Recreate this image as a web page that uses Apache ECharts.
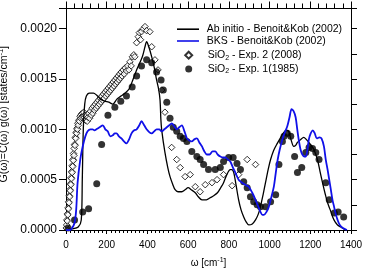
<!DOCTYPE html>
<html><head><meta charset="utf-8">
<script src="https://cdn.jsdelivr.net/npm/echarts@6/dist/echarts.min.js"></script>
<style>html,body{margin:0;padding:0;background:#fff}#c{width:365px;height:270px}</style>
</head><body><div id="c"></div>
<script>
const xTicks = [0, 200, 400, 600, 800, 1000, 1200, 1400];
const yTicks = ['0.0000', '0.0005', '0.0010', '0.0015', '0.0020'];
const seriesNames = ['Ab initio - Benoit&Kob (2002)', 'BKS - Benoit&Kob (2002)', 'SiO2 - Exp. 2 (2008)', 'SiO2 - Exp. 1(1985)'];

const abW = [0,30,60,75,80,85,92,100,115,135,150,170,190,210,230,250,270,290,310,330,345,360,375,388,396,405,421,435,445,455,462,466,470,486,500,511,525,536,550,569,585,600,615,635,650,668,690,708,725,744,760,774,790,807,815,824,835,848,860,873,885,898,915,931,945,955,968,980,993,1005,1020,1038,1055,1070,1082,1094,1105,1119,1128,1137,1153,1168,1180,1193,1205,1218,1235,1248,1260,1273,1285,1298,1310,1322,1334,1350,1365,1380];
const abG = [0,0.00001,0.00003,0.0001,0.0005,0.001,0.00125,0.00133,0.00136,0.00136,0.00134,0.0013,0.00128,0.00127,0.00125,0.0013,0.00133,0.00136,0.0014,0.0015,0.00158,0.00165,0.00172,0.00182,0.00187,0.00183,0.00172,0.0016,0.00149,0.0014,0.00129,0.0011,0.000995,0.00077,0.00062,0.00053,0.00045,0.0004,0.00038,0.00038,0.0004,0.00042,0.0004,0.00037,0.00033,0.0003,0.0003,0.00032,0.00034,0.00037,0.00042,0.00047,0.00055,0.0006,0.0006,0.00057,0.00045,0.0003,0.0002,0.00013,0.00008,0.00005,0.00006,0.0001,0.00016,0.00023,0.00035,0.00047,0.0006,0.0007,0.00079,0.00086,0.00092,0.00097,0.00099,0.00098,0.0009,0.00083,0.00084,0.00087,0.0009,0.00092,0.0009,0.00087,0.00084,0.0008,0.0007,0.00058,0.00047,0.00036,0.00027,0.0002,0.00013,0.00008,0.00005,0.00003,0.00001,0];

const bksW = [0,20,30,42,50,57,70,82,95,106,120,131,140,149,165,181,193,205,218,230,240,248,260,272,285,297,310,322,335,347,360,371,384,396,410,421,433,445,458,470,483,495,507,519,532,544,556,569,582,594,606,618,630,643,655,668,680,692,705,720,733,745,758,770,783,795,807,820,832,848,865,880,897,915,931,945,955,965,972,985,996,1008,1021,1030,1040,1050,1063,1075,1087,1098,1108,1118,1128,1136,1143,1152,1161,1170,1178,1186,1193,1202,1212,1222,1232,1245,1255,1267,1276,1285,1293,1301,1309,1317,1325,1334,1345,1360,1380];
const bksG = [0,0,0.00002,0.00007,0.0002,0.00047,0.0007,0.00083,0.00093,0.00098,0.001,0.001,0.00099,0.001,0.00102,0.00104,0.001,0.00098,0.00093,0.00094,0.00096,0.00096,0.00093,0.00091,0.00088,0.00086,0.0009,0.00096,0.00099,0.001,0.00104,0.00108,0.00104,0.001,0.00097,0.00096,0.00098,0.001,0.001,0.00098,0.001,0.00102,0.00104,0.00106,0.00103,0.001,0.00102,0.00104,0.00098,0.00091,0.00089,0.00088,0.0009,0.00091,0.00087,0.00083,0.00078,0.00075,0.00075,0.00078,0.00078,0.00075,0.00073,0.00072,0.00072,0.0007,0.00068,0.00062,0.00057,0.0005,0.00047,0.00045,0.00043,0.00037,0.0003,0.00023,0.00018,0.00015,0.00015,0.00018,0.00023,0.00032,0.00043,0.00056,0.0007,0.0008,0.0009,0.00097,0.00103,0.00112,0.0012,0.00118,0.00112,0.001,0.0009,0.0008,0.00075,0.00073,0.00073,0.0008,0.0009,0.00096,0.00099,0.00096,0.00091,0.00092,0.00091,0.00083,0.0007,0.0006,0.0005,0.0004,0.0003,0.00023,0.00016,0.0001,0.00005,0.00002,0];

const exp2W = [1,3,4,6,7,9,10,12,13,15,16,18,19,21,22,24,25,27,28,30,31,33,34,36,37,39,40,42,44,46,48,50,52,54,56,58,60,63,66,69,72,75,78,81,84,87,90,93,96,100,104,108,112,116,120,124,128,132,136,140,144,148,152,156,160,164,168,172,176,180,184,188,192,196,200,204,208,212,216,220,224,228,232,236,240,244,248,252,256,260,264,268,272,276,281,286,291,297,303,309,314,320,326,333,338,347,355,360,366,371,380,388,396,412,421,437,452,470,486,519,544,561,585,610,635,659,684,717,742,774,816,848,890,931];
const exp2G = [0.00002,0.00005,0.0001,0.00009,0.00016,0.00015,0.00022,0.00021,0.00028,0.00027,0.00034,0.00033,0.0004,0.00039,0.00046,0.00045,0.00052,0.00051,0.00058,0.00057,0.00064,0.00063,0.0007,0.00069,0.00076,0.00074,0.00081,0.00085,0.00084,0.00092,0.00091,0.00097,0.00096,0.00101,0.001,0.00106,0.00104,0.00109,0.00108,0.00113,0.00111,0.00115,0.00112,0.00116,0.00113,0.00117,0.00112,0.00114,0.00109,0.00113,0.00108,0.00112,0.00116,0.00111,0.00118,0.00114,0.00121,0.00116,0.00123,0.00119,0.00125,0.00121,0.00127,0.00123,0.00129,0.00125,0.00131,0.00127,0.00133,0.00129,0.00135,0.00131,0.00137,0.00133,0.00139,0.00135,0.00141,0.00137,0.00143,0.00139,0.00145,0.00141,0.00147,0.00143,0.00149,0.00145,0.00151,0.00147,0.00153,0.00149,0.00155,0.00151,0.00157,0.00153,0.00159,0.00155,0.00161,0.00158,0.00163,0.00159,0.00167,0.00163,0.00172,0.00174,0.00172,0.00186,0.00192,0.00196,0.00189,0.00197,0.002,0.00202,0.00198,0.00197,0.00182,0.00169,0.00159,0.00139,0.00117,0.00082,0.0007,0.00062,0.00053,0.00055,0.00043,0.00038,0.00045,0.00047,0.0005,0.00055,0.00044,0.00055,0.0007,0.00065];

const exp1W = [10,42,82,111,151,175,206,240,269,297,325,347,371,396,421,445,467,478,495,511,527,544,561,577,594,618,643,659,676,700,733,758,774,799,821,840,857,873,890,906,922,939,955,980,1005,1030,1046,1063,1071,1087,1104,1123,1137,1158,1178,1194,1211,1227,1243,1276,1293,1318,1337,1364];
const exp1G = [0.00002,0.0001,0.00018,0.00021,0.00046,0.00085,0.00114,0.00122,0.00128,0.00133,0.00142,0.00153,0.00163,0.00169,0.00166,0.00157,0.00149,0.00139,0.00127,0.00111,0.00102,0.00098,0.00093,0.00091,0.00088,0.00078,0.00073,0.0007,0.00065,0.0006,0.0006,0.00062,0.00068,0.00072,0.00072,0.00066,0.0006,0.00048,0.00042,0.00033,0.00028,0.00025,0.00023,0.00023,0.00028,0.00035,0.00065,0.00088,0.00093,0.00096,0.00093,0.00073,0.00057,0.00062,0.00077,0.00082,0.00081,0.00077,0.0007,0.00047,0.0003,0.00017,0.00018,0.00013];

const pair = (xs, ys) => xs.map((x, i) => [x, ys[i]]);
const FONT = 'Liberation Sans';
const chart = echarts.init(document.getElementById('c'), null, {renderer: 'canvas'});

const isMajorY = v => yTicks.some(t => Math.abs(parseFloat(t) - v) < 1e-9);
const legendRich = {
  p: {width: 2.7},
  q: {width: 10.5},
  n: {fontFamily: FONT, fontSize: 10.5, lineHeight: 12, color: '#000'},
  s: {fontFamily: FONT, fontSize: 7, lineHeight: 7, verticalAlign: 'bottom', color: '#000'}
};
const legendFmt = pad => name => '{' + pad + '|}' + (name.startsWith('SiO2') ? '{n|SiO}{s|2}{n|' + name.slice(4) + '}' : '{n|' + name + '}');

const option = {
  animation: false,
  backgroundColor: '#fff',
  grid: {left: 66, right: 14, top: 8.5, bottom: 40, containLabel: false, outerBoundsMode: 'none'},
  legend: [{
    orient: 'vertical', left: 177, top: 23.7, padding: 0,
    itemWidth: 22, itemHeight: 1.6, itemGap: 0.8, icon: 'rect',
    textStyle: {fontFamily: FONT, fontSize: 10.5, color: '#000', rich: legendRich},
    formatter: legendFmt('p'),
    data: [seriesNames[0], seriesNames[1]]
  }, {
    orient: 'vertical', left: 184.2, top: 49.7, padding: 0,
    itemWidth: 7, itemHeight: 7, itemGap: 2.3,
    textStyle: {fontFamily: FONT, fontSize: 10.5, color: '#000', rich: legendRich},
    formatter: legendFmt('q'),
    data: [{name: seriesNames[2], icon: 'diamond'}, {name: seriesNames[3], icon: 'circle'}]
  }],
  xAxis: [{
    type: 'value', position: 'bottom', min: xTicks[0], max: xTicks[xTicks.length - 1], interval: 200,
    axisLine: {show: true, onZero: false, lineStyle: {color: '#000', width: 1}},
    axisTick: {show: true, inside: false, length: 4, lineStyle: {color: '#000'}},
    minorTick: {show: true, splitNumber: 10, length: 3, lineStyle: {color: '#000'}},
    splitLine: {show: false},
    axisLabel: {fontFamily: FONT, fontSize: 10, color: '#000', margin: 10, formatter: v => String(v)},
    name: '{n|ω [cm}{s|-1}{n|]}', nameLocation: 'middle', nameGap: 27,
    nameTextStyle: {rich: {n: {fontFamily: FONT, fontSize: 10, lineHeight: 13, color: '#000'},
                           s: {fontFamily: FONT, fontSize: 7, lineHeight: 7, verticalAlign: 'top', color: '#000'}}}
  }, {
    type: 'value', position: 'top', min: xTicks[0], max: xTicks[xTicks.length - 1], interval: 200,
    axisLine: {show: true, onZero: false, lineStyle: {color: '#000', width: 1}},
    axisTick: {show: true, inside: false, length: 7, lineStyle: {color: '#000'}},
    minorTick: {show: true, splitNumber: 5, length: 5, lineStyle: {color: '#000'}},
    splitLine: {show: false}, axisLabel: {show: false}
  }],
  yAxis: [{
    type: 'value', position: 'left', min: 0, max: 0.0022, interval: 0.0005,
    axisLine: {show: true, onZero: false, lineStyle: {color: '#000', width: 1}},
    axisTick: {show: true, inside: false, length: 7, lineStyle: {color: '#000'}},
    splitLine: {show: false},
    axisLabel: {fontFamily: FONT, fontSize: 12, color: '#000', margin: 9,
      formatter: v => isMajorY(v) ? v.toFixed(4) : ''},
    name: '{n|G(ω)=C(ω) g(ω) [states/cm}{s|-1}{n|]}', nameLocation: 'middle', nameGap: 41,
    nameTextStyle: {padding: [0, 0, 0, 10],
      rich: {n: {fontFamily: FONT, fontSize: 10.5, lineHeight: 13, color: '#000'},
             s: {fontFamily: FONT, fontSize: 7.5, lineHeight: 7.5, verticalAlign: 'top', color: '#000'}}}
  }, {
    type: 'value', position: 'right', min: 0, max: 0.0022, interval: 0.00025,
    axisLine: {show: true, onZero: false, lineStyle: {color: '#000', width: 1}},
    axisTick: {show: true, inside: false, length: 6, lineStyle: {color: '#000'}},
    splitLine: {show: false}, axisLabel: {show: false}
  }],
  series: [
    {name: seriesNames[0], type: 'line', xAxisIndex: 0, yAxisIndex: 0, data: pair(abW, abG),
     symbol: 'none', smooth: 0.3, lineStyle: {color: '#000', width: 1.3}, itemStyle: {color: '#000'}},
    {name: seriesNames[1], type: 'line', xAxisIndex: 0, yAxisIndex: 0, data: pair(bksW, bksG),
     symbol: 'none', smooth: 0.3, lineStyle: {color: '#1010e8', width: 1.8}, itemStyle: {color: '#1010e8'}},
    {name: seriesNames[2], type: 'scatter', xAxisIndex: 0, yAxisIndex: 0, data: pair(exp2W, exp2G),
     symbol: 'diamond', symbolSize: 6.5, itemStyle: {color: '#fff', borderColor: '#000', borderWidth: 1}},
    {name: seriesNames[3], type: 'scatter', xAxisIndex: 0, yAxisIndex: 0, data: pair(exp1W, exp1G),
     symbol: 'circle', symbolSize: 7, itemStyle: {color: '#000'}}
  ]
};
chart.setOption(option);
</script></body></html>
